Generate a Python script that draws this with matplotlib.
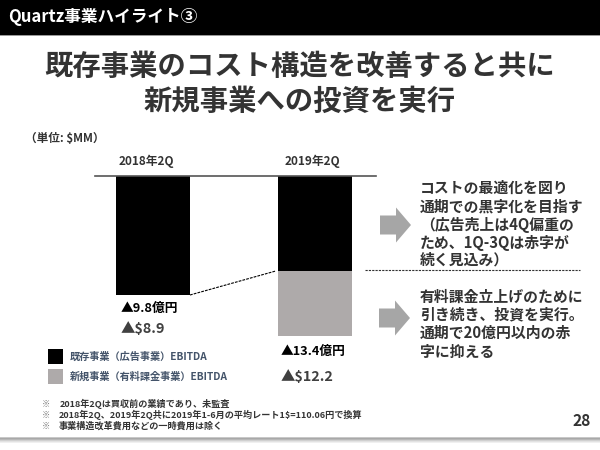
import matplotlib.pyplot as plt
from matplotlib.patches import Polygon, Rectangle

plt.rcParams['font.family'] = ['Noto Sans CJK JP', 'DejaVu Sans']

periods = ['2018年2Q', '2019年2Q']
existing = [-8.9, -7.1]
new_biz = [0, -4.9]
yen_labels = ['▲9.8億円', '▲13.4億円']
usd_labels = ['▲$8.9', '▲$12.2']
legend_names = ['既存事業（広告事業）EBITDA', '新規事業（有料課金事業）EBITDA']
title_lines = ['既存事業のコスト構造を改善すると共に', '新規事業への投資を実行']
text_top = ['コストの最適化を図り', '通期での黒字化を目指す', '（広告売上は4Q偏重の',
            'ため、1Q-3Qは赤字が', '続く見込み）']
text_bottom = ['有料課金立上げのために', '引き続き、投資を実行。', '通期で20億円以内の赤',
               '字に抑える']
notes = ['2018年2Qは買収前の業績であり、未監査',
         '2018年2Q、2019年2Q共に2019年1-6月の平均レート1$=110.06円で換算',
         '事業構造改革費用などの一時費用は除く']

BLACK = '#000000'
GRAY = '#aeaaaa'
DARK = '#333333'

fig = plt.figure(figsize=(6, 4.5), dpi=100)

# slide layer in pixels
bg = fig.add_axes([0, 0, 1, 1])
bg.set_xlim(0, 600)
bg.set_ylim(450, 0)
bg.axis('off')

bg.add_patch(Rectangle((0, 0), 600, 35, color=BLACK, lw=0))
bg.add_patch(Rectangle((0, 35), 600, 1, color='#999999', lw=0))
bg.text(8, 17, 'Quartz事業ハイライト③', color='white', fontsize=12, weight='bold', va='center')

for y, line in zip([67, 102], title_lines):
    bg.text(299.5, y, line, color=DARK, fontsize=20.4, weight='bold', ha='center', va='center')

bg.text(25, 138, '（単位: $MM）', color=DARK, fontsize=8.4, weight='bold', va='center')

# bars
ax = fig.add_axes([95 / 600, 1 - 356.5 / 450, 281 / 600, 180.5 / 450])
ax.bar([0, 1], existing, width=0.457, color=BLACK)
ax.bar([0, 1], new_biz, bottom=existing, width=0.457, color=GRAY)
ax.plot([0 + 0.457 / 2, 1 - 0.457 / 2 - 0.012], [existing[0], existing[1]], color=BLACK, lw=0.8, ls=(0, (2.5, 1)))
ax.set_xlim(-0.358, 1.377)
ax.set_ylim(-13.5, 0)
ax.set_xticks([])
ax.set_yticks([])
for side in ['left', 'right', 'bottom']:
    ax.spines[side].set_visible(False)
ax.spines['top'].set_color('#555555')
ax.spines['top'].set_linewidth(1.2)
ax.patch.set_alpha(0)
for i, offset in enumerate([-6.5, -2.5]):
    ax.annotate(periods[i], (i, 0), xytext=(offset * 0.72, 15 * 0.72), textcoords='offset points',
                ha='center', va='center', color=DARK, fontsize=8.5, weight='bold')

# value labels
for x, y, s in zip([149, 313.5], [308, 351], yen_labels):
    bg.text(x, y, s, color=BLACK, fontsize=9.2, weight='bold', ha='center', va='center')
for x, y, s in zip([143, 307], [329, 377], usd_labels):
    bg.text(x, y, s, color='#404040', fontsize=10.4, weight='bold', ha='center', va='center')

# legend
for y, c, s in zip([349, 369], [BLACK, GRAY], legend_names):
    bg.add_patch(Rectangle((48, y), 15, 14.5, color=c, lw=0))
    bg.text(70, y + 7.5, s, color='#44546a', fontsize=7.3, weight='bold', va='center')

# notes
for y, s, x in zip([404, 415, 426], notes, [60, 59, 59]):
    bg.text(42, y, '※', color='#777777', fontsize=6, va='center')
    bg.text(x, y, s, color=DARK, fontsize=6.55, weight='bold', va='center')

# arrows
for x0, yc in [(380, 225), (379, 318)]:
    bg.add_patch(Polygon([(x0, yc - 9.5), (x0 + 16, yc - 9.5), (x0 + 16, yc - 17.5), (x0 + 31, yc),
                          (x0 + 16, yc + 17.5), (x0 + 16, yc + 9.5), (x0, yc + 9.5)],
                         color='#a6a6a6', lw=0))

bg.plot([365, 580], [270, 270], color=DARK, lw=0.8, ls=(0, (2, 1)))

for y, s in zip([188, 207, 225, 243, 260], text_top):
    bg.text(420, y, s, color=DARK, fontsize=10.7, weight='bold', va='center')
for y, s in zip([297, 314, 333, 352], text_bottom):
    bg.text(420, y, s, color=DARK, fontsize=10.7, weight='bold', va='center')

bg.text(591, 421, '28', color=DARK, fontsize=11.2, weight='bold', ha='right', va='center')

# footer shadow
for y, c in zip([437, 438, 439, 440, 441, 442], ['#c8c8c8', '#a8a8a8', '#b8b8b8', '#d0d0d0', '#e2e2e2', '#f0f0f0']):
    bg.add_patch(Rectangle((0, y), 600, 1, color=c, lw=0))

fig.savefig('out.png', dpi=100)
